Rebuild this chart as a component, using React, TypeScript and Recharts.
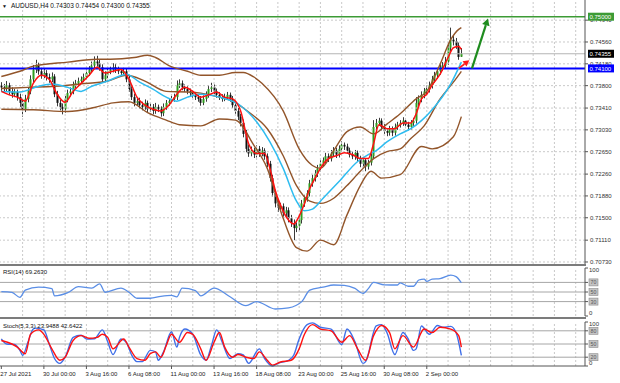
import React from 'react';
import { ComposedChart, Bar, Line, XAxis, YAxis, ReferenceLine } from 'recharts';

const FONT = '"Liberation Sans", Arial, sans-serif';
const W = 620;
const PLOT_W = 585;
const AXIS_W = 35;
const X_DOMAIN: [number, number] = [-0.5, 219.5];
const PRICE_DOMAIN: [number, number] = [0.70695, 0.75291];

// H4 candles, AUDUSD, 27 Jul 2021 -> 3 Sep 2021
const opens = [
  0.7380, 0.7377, 0.7374, 0.7381, 0.7370, 0.7365, 0.7369, 0.7360, 0.7350, 0.7339,
  0.7357, 0.7370, 0.7391, 0.7408, 0.7415, 0.7405, 0.7398, 0.7402, 0.7395, 0.7391,
  0.7396, 0.7365, 0.7350, 0.7343, 0.7339, 0.7357, 0.7367, 0.7370, 0.7381, 0.7384,
  0.7388, 0.7391, 0.7395, 0.7402, 0.7408, 0.7415, 0.7422, 0.7419, 0.7412, 0.7391,
  0.7398, 0.7405, 0.7408, 0.7412, 0.7408, 0.7405, 0.7402, 0.7405, 0.7391, 0.7374,
  0.7360, 0.7350, 0.7353, 0.7346, 0.7343, 0.7350, 0.7339, 0.7343, 0.7336, 0.7343,
  0.7339, 0.7332, 0.7343, 0.7350, 0.7353, 0.7357, 0.7360, 0.7381, 0.7384, 0.7377,
  0.7374, 0.7370, 0.7367, 0.7364, 0.7360, 0.7357, 0.7350, 0.7357, 0.7364, 0.7374,
  0.7377, 0.7370, 0.7364, 0.7360, 0.7357, 0.7360, 0.7364, 0.7357, 0.7346, 0.7336,
  0.7326, 0.7315, 0.7296, 0.7270, 0.7262, 0.7267, 0.7260, 0.7270, 0.7262, 0.7267,
  0.7257, 0.7244, 0.7219, 0.7193, 0.7175, 0.7167, 0.7170, 0.7158, 0.7163, 0.7149,
  0.7141, 0.7132, 0.7136, 0.7146, 0.7175, 0.7184, 0.7193, 0.7210, 0.7219, 0.7227,
  0.7236, 0.7244, 0.7250, 0.7257, 0.7253, 0.7262, 0.7267, 0.7260, 0.7270, 0.7277,
  0.7274, 0.7267, 0.7260, 0.7257, 0.7263, 0.7253, 0.7244, 0.7250, 0.7239, 0.7246,
  0.7257, 0.7308, 0.7315, 0.7319, 0.7308, 0.7301, 0.7298, 0.7305, 0.7298, 0.7308,
  0.7312, 0.7315, 0.7319, 0.7312, 0.7308, 0.7315, 0.7319, 0.7350, 0.7357, 0.7364,
  0.7370, 0.7374, 0.7381, 0.7391, 0.7398, 0.7405, 0.7412, 0.7415, 0.7422, 0.7446,
  0.7460, 0.7457, 0.7450, 0.74303,
];
const highs = [
  0.7386, 0.7383, 0.7388, 0.7385, 0.7377, 0.7374, 0.7373, 0.7366, 0.7356, 0.7364,
  0.7376, 0.7398, 0.7416, 0.7425, 0.7420, 0.7411, 0.7409, 0.7407, 0.7401, 0.7403,
  0.7400, 0.7371, 0.7356, 0.7349, 0.7362, 0.7373, 0.7377, 0.7387, 0.7390, 0.7394,
  0.7396, 0.7401, 0.7408, 0.7414, 0.7422, 0.7431, 0.7432, 0.7425, 0.7417, 0.7405,
  0.7411, 0.7413, 0.7419, 0.7418, 0.7413, 0.7410, 0.7411, 0.7409, 0.7397, 0.7379,
  0.7366, 0.7358, 0.7359, 0.7352, 0.7356, 0.7354, 0.7349, 0.7348, 0.7350, 0.7347,
  0.7344, 0.7349, 0.7355, 0.7358, 0.7362, 0.7366, 0.7389, 0.7391, 0.7389, 0.7382,
  0.7379, 0.7375, 0.7372, 0.7369, 0.7365, 0.7362, 0.7363, 0.7370, 0.7381, 0.7385,
  0.7382, 0.7375, 0.7369, 0.7365, 0.7366, 0.7369, 0.7368, 0.7362, 0.7352, 0.7341,
  0.7331, 0.7321, 0.7303, 0.7277, 0.7274, 0.7272, 0.7276, 0.7275, 0.7273, 0.7271,
  0.7262, 0.7249, 0.7225, 0.7199, 0.7181, 0.7176, 0.7175, 0.7169, 0.7168, 0.7155,
  0.7147, 0.7142, 0.7152, 0.7181, 0.7190, 0.7198, 0.7216, 0.7225, 0.7233, 0.7242,
  0.7250, 0.7255, 0.7263, 0.7262, 0.7268, 0.7273, 0.7272, 0.7276, 0.7283, 0.7281,
  0.7279, 0.7272, 0.7265, 0.7268, 0.7267, 0.7258, 0.7256, 0.7254, 0.7251, 0.7263,
  0.7320, 0.7322, 0.7324, 0.7323, 0.7313, 0.7306, 0.7310, 0.7309, 0.7314, 0.7317,
  0.7320, 0.7325, 0.7323, 0.7317, 0.7320, 0.7324, 0.7360, 0.7363, 0.7370, 0.7376,
  0.7380, 0.7387, 0.7397, 0.7404, 0.7411, 0.7418, 0.7421, 0.7430, 0.7455, 0.7481,
  0.7468, 0.7463, 0.7455, 0.74454,
];
const lows = [
  0.7371, 0.7368, 0.7369, 0.7364, 0.7359, 0.7360, 0.7354, 0.7343, 0.7326, 0.7334,
  0.7351, 0.7365, 0.7385, 0.7402, 0.7399, 0.7392, 0.7393, 0.7389, 0.7385, 0.7386,
  0.7360, 0.7344, 0.7337, 0.7330, 0.7333, 0.7351, 0.7361, 0.7365, 0.7376, 0.7379,
  0.7383, 0.7386, 0.7390, 0.7397, 0.7403, 0.7410, 0.7413, 0.7406, 0.7385, 0.7386,
  0.7393, 0.7400, 0.7403, 0.7402, 0.7400, 0.7397, 0.7398, 0.7386, 0.7369, 0.7355,
  0.7344, 0.7345, 0.7340, 0.7337, 0.7338, 0.7333, 0.7334, 0.7330, 0.7331, 0.7334,
  0.7326, 0.7327, 0.7338, 0.7345, 0.7348, 0.7352, 0.7355, 0.7376, 0.7372, 0.7369,
  0.7365, 0.7362, 0.7359, 0.7355, 0.7352, 0.7345, 0.7346, 0.7352, 0.7359, 0.7369,
  0.7365, 0.7359, 0.7355, 0.7352, 0.7353, 0.7355, 0.7352, 0.7341, 0.7331, 0.7320,
  0.7309, 0.7290, 0.7264, 0.7256, 0.7257, 0.7254, 0.7255, 0.7256, 0.7257, 0.7251,
  0.7238, 0.7213, 0.7187, 0.7168, 0.7160, 0.7161, 0.7152, 0.7152, 0.7142, 0.7134,
  0.7111, 0.7125, 0.7128, 0.7140, 0.7169, 0.7178, 0.7187, 0.7204, 0.7213, 0.7221,
  0.7230, 0.7239, 0.7245, 0.7247, 0.7248, 0.7257, 0.7254, 0.7255, 0.7265, 0.7268,
  0.7262, 0.7255, 0.7252, 0.7251, 0.7247, 0.7238, 0.7239, 0.7231, 0.7234, 0.7241,
  0.7252, 0.7302, 0.7310, 0.7302, 0.7296, 0.7292, 0.7293, 0.7292, 0.7293, 0.7303,
  0.7307, 0.7310, 0.7306, 0.7302, 0.7303, 0.7310, 0.7314, 0.7344, 0.7351, 0.7358,
  0.7364, 0.7368, 0.7375, 0.7385, 0.7392, 0.7399, 0.7406, 0.7409, 0.7416, 0.7440,
  0.7450, 0.7444, 0.7425, 0.74300,
];
const closes = [
  0.7377, 0.7374, 0.7381, 0.7370, 0.7365, 0.7369, 0.7360, 0.7350, 0.7339, 0.7357,
  0.7370, 0.7391, 0.7408, 0.7415, 0.7405, 0.7398, 0.7402, 0.7395, 0.7391, 0.7396,
  0.7365, 0.7350, 0.7343, 0.7339, 0.7357, 0.7367, 0.7370, 0.7381, 0.7384, 0.7388,
  0.7391, 0.7395, 0.7402, 0.7408, 0.7415, 0.7422, 0.7419, 0.7412, 0.7391, 0.7398,
  0.7405, 0.7408, 0.7412, 0.7408, 0.7405, 0.7402, 0.7405, 0.7391, 0.7374, 0.7360,
  0.7350, 0.7353, 0.7346, 0.7343, 0.7350, 0.7339, 0.7343, 0.7336, 0.7343, 0.7339,
  0.7332, 0.7343, 0.7350, 0.7353, 0.7357, 0.7360, 0.7381, 0.7384, 0.7377, 0.7374,
  0.7370, 0.7367, 0.7364, 0.7360, 0.7357, 0.7350, 0.7357, 0.7364, 0.7374, 0.7377,
  0.7370, 0.7364, 0.7360, 0.7357, 0.7360, 0.7364, 0.7357, 0.7346, 0.7336, 0.7326,
  0.7315, 0.7296, 0.7270, 0.7262, 0.7267, 0.7260, 0.7270, 0.7262, 0.7267, 0.7257,
  0.7244, 0.7219, 0.7193, 0.7175, 0.7167, 0.7170, 0.7158, 0.7163, 0.7149, 0.7141,
  0.7132, 0.7136, 0.7146, 0.7175, 0.7184, 0.7193, 0.7210, 0.7219, 0.7227, 0.7236,
  0.7244, 0.7250, 0.7257, 0.7253, 0.7262, 0.7267, 0.7260, 0.7270, 0.7277, 0.7274,
  0.7267, 0.7260, 0.7257, 0.7263, 0.7253, 0.7244, 0.7250, 0.7239, 0.7246, 0.7257,
  0.7308, 0.7315, 0.7319, 0.7308, 0.7301, 0.7298, 0.7305, 0.7298, 0.7308, 0.7312,
  0.7315, 0.7319, 0.7312, 0.7308, 0.7315, 0.7319, 0.7350, 0.7357, 0.7364, 0.7370,
  0.7374, 0.7381, 0.7391, 0.7398, 0.7405, 0.7412, 0.7415, 0.7422, 0.7446, 0.7460,
  0.7457, 0.7450, 0.7430, 0.74355,
];

// indicator lines, [bar, value]
const redMa: [number, number][] = [
  [0, 0.7370], [3, 0.7364], [6, 0.7360], [9, 0.7353], [12, 0.7384], [15, 0.7398], [18, 0.7391],
  [21, 0.7365], [24, 0.7351], [27, 0.7370], [30, 0.7384], [33, 0.7398], [36, 0.7412], [39, 0.7402],
  [42, 0.7405], [45, 0.7408], [48, 0.7391], [51, 0.7360], [54, 0.7346], [57, 0.7339], [60, 0.7336],
  [63, 0.7346], [66, 0.7365], [69, 0.7377], [72, 0.7370], [75, 0.7360], [78, 0.7364], [81, 0.7369],
  [84, 0.7360], [87, 0.7357], [90, 0.7336], [93, 0.7279], [96, 0.7262], [99, 0.7262], [101, 0.7236],
  [103, 0.7198], [105, 0.7172], [108, 0.7146], [110, 0.7139], [112, 0.7153], [114, 0.7175],
  [116, 0.7201], [118, 0.7219], [120, 0.7236], [123, 0.7253], [126, 0.7258], [129, 0.7263],
  [132, 0.7260], [135, 0.7253], [138, 0.7253], [140, 0.7279], [142, 0.7312], [145, 0.7305],
  [148, 0.7305], [151, 0.7315], [154, 0.7315], [156, 0.7331], [158, 0.7357], [160, 0.7365],
  [162, 0.7381], [165, 0.7400], [168, 0.7429], [170, 0.7446], [172, 0.7448], [173, 0.7443],
];
const cyanMa: [number, number][] = [
  [0, 0.7370], [7, 0.7369], [14, 0.7379], [19, 0.7383], [25, 0.7377], [30, 0.7370], [34, 0.7379],
  [40, 0.7388], [44, 0.7396], [47, 0.7400], [52, 0.7386], [57, 0.7374], [62, 0.7360], [66, 0.7353],
  [70, 0.7360], [75, 0.7365], [82, 0.7360], [90, 0.7345], [96, 0.7317], [101, 0.7282], [106, 0.7236],
  [111, 0.7179], [114, 0.7162], [117, 0.7165], [121, 0.7184], [127, 0.7213], [134, 0.7248],
  [138, 0.7260], [141, 0.7267], [145, 0.7282], [150, 0.7296], [154, 0.7305], [158, 0.7319],
  [162, 0.7338], [169, 0.7383], [173, 0.7421],
];
const bbUpper: [number, number][] = [
  [0, 0.7396], [7, 0.7405], [12, 0.7414], [25, 0.7421], [36, 0.7426], [41, 0.7426], [50, 0.7429],
  [55, 0.7433], [58, 0.7429], [63, 0.7415], [70, 0.7405], [75, 0.7398], [82, 0.7398], [88, 0.7403],
  [91, 0.7403], [95, 0.7395], [98, 0.7384], [106, 0.7336], [112, 0.7270], [117, 0.7241],
  [120, 0.7236], [125, 0.7267], [130, 0.7300], [135, 0.7308], [140, 0.7296], [145, 0.7313],
  [150, 0.7331], [156, 0.7357], [160, 0.7370], [165, 0.7417], [169, 0.7460], [172, 0.7478],
  [173, 0.7481],
];
const bbMiddle: [number, number][] = [
  [0, 0.7375], [10, 0.7377], [20, 0.7379], [30, 0.7383], [40, 0.7388], [47, 0.7398], [54, 0.7388],
  [62, 0.7370], [70, 0.7369], [75, 0.7367], [82, 0.7360], [87, 0.7353], [93, 0.7334], [100, 0.7305],
  [106, 0.7258], [111, 0.7206], [116, 0.7179], [120, 0.7175], [125, 0.7184], [130, 0.7206],
  [135, 0.7231], [140, 0.7253], [145, 0.7265], [150, 0.7270], [154, 0.7288], [159, 0.7310],
  [165, 0.7357], [170, 0.7386], [173, 0.7405],
];
const bbLower: [number, number][] = [
  [0, 0.7339], [12, 0.7338], [25, 0.7335], [35, 0.7342], [42, 0.7350], [48, 0.7352], [55, 0.7333],
  [62, 0.7320], [67, 0.7312], [75, 0.7310], [82, 0.7322], [88, 0.7320], [95, 0.7276], [100, 0.7236],
  [106, 0.7149], [111, 0.7098], [115, 0.7092], [120, 0.7111], [125, 0.7103], [130, 0.7155],
  [135, 0.7206], [139, 0.7231], [143, 0.7219], [150, 0.7225], [158, 0.7274], [162, 0.7270],
  [170, 0.7291], [173, 0.7326],
];
const rsi14: [number, number][] = [
  [0, 50.6], [4, 49], [7, 39], [9, 54], [14, 60], [19, 57], [20, 42], [25, 48.5], [29, 61], [34, 58],
  [37, 67], [39, 49.5], [45, 58], [48, 49.5], [51, 37], [56, 37], [60, 41], [64, 43], [66, 40],
  [68, 58], [73, 53], [75, 42], [80, 58], [86, 40], [92, 21.5], [96, 30], [103, 14.6], [108, 17],
  [113, 30], [116, 54], [121, 60], [125, 64.6], [129, 64], [133, 57.6], [136, 47], [138, 57],
  [140, 70], [144, 65], [149, 64.6], [150, 69], [153, 62], [155, 62], [157, 75], [159, 77], [160, 72],
  [162, 77], [165, 78], [169, 85], [171, 82], [173, 69.26],
];
const stochMain: [number, number][] = [
  [0, 61.5], [2, 50], [5, 49], [7, 35.5], [8, 24], [10, 54], [12, 84], [13, 86], [16, 82], [18, 50],
  [20, 17], [22, 6], [24, 20], [27, 65], [30, 70], [32, 61.5], [35, 62], [38, 82], [40, 55], [42, 26],
  [45, 61.5], [47, 54], [49, 25], [51, 10], [53, 10], [56, 35.5], [58, 32], [59, 13], [61, 32],
  [64, 78], [66, 43], [67, 65], [69, 84], [72, 72], [75, 25], [77, 13], [79, 46], [81, 82], [83, 55],
  [86, 17], [89, 28], [91, 25], [93, 6], [97, 39], [99, 17], [102, 0], [104, 6], [108, 13], [110, 25],
  [112, 61.5], [115, 94], [117, 98], [120, 88], [124, 84], [128, 49], [130, 84], [133, 55], [136, 6],
  [137, 10], [141, 91], [143, 94], [145, 76], [148, 26], [151, 76], [153, 61.5], [155, 35.5],
  [156, 39], [158, 91], [161, 72], [164, 92], [166, 88], [169, 90], [171, 76], [173, 23.95],
];
const stochSignal: [number, number][] = [
  [0, 58], [4, 50], [6, 43], [9, 28], [11, 72], [14, 82], [16, 72], [19, 39], [22, 13], [24, 20],
  [27, 58], [30, 69], [33, 63], [36, 65], [38, 72], [40, 65], [42, 39], [46, 61.5], [48, 43], [51, 17],
  [54, 13], [56, 28], [58, 32], [60, 20], [62, 46], [64, 72], [67, 54], [70, 76], [72, 72], [75, 39],
  [77, 13], [80, 54], [82, 76], [84, 43], [87, 20], [89, 26], [92, 20], [95, 17], [97, 32], [100, 13],
  [102, 2], [105, 9], [109, 13], [112, 39], [114, 72], [117, 94], [120, 84], [124, 80], [128, 54],
  [131, 69], [134, 39], [137, 13], [140, 69], [143, 92], [146, 76], [148, 39], [151, 69], [155, 43],
  [159, 84], [162, 76], [165, 88], [169, 84], [172, 69], [173, 42.64],
];

const priceTicks = [0.7073, 0.7111, 0.715, 0.7188, 0.7226, 0.7265, 0.7303, 0.7341, 0.738, 0.7418, 0.7456, 0.7494];
const gridBars = [8, 16, 24, 32, 40, 48, 56, 64, 72, 80, 88, 96, 104, 112, 120, 128, 136, 144, 152, 160, 168, 176, 184, 192, 200, 208, 216];
const timeTickBars = [0, 16, 32, 48, 64, 80, 96, 112, 128, 144, 160];
const timeLabels = ['27 Jul 2021', '30 Jul 00:00', '3 Aug 16:00', '6 Aug 08:00', '11 Aug 00:00', '13 Aug 16:00', '18 Aug 08:00', '23 Aug 00:00', '25 Aug 16:00', '30 Aug 08:00', '2 Sep 00:00'];
const targetLevel = 0.75;
const supportLevel = 0.741;
const bidPrice = 0.74355;
const tagPrices = [bidPrice, supportLevel, targetLevel];
const tagColors: Record<string, string> = { '0.74355': '#000', '0.74100': '#0000ff', '0.75000': '#3d9b35' };
const rsiLevels = [30, 50, 70];
const stochLevels = [20, 50, 80];
const greenArrow = [{ x: 177, y: 0.741 }, { x: 183, y: 0.7497 }];
const redArrow = [{ x: 172, y: 0.741 }, { x: 176, y: 0.7424 }];

const candles = closes.map((c, i) => ({
  i, open: opens[i], close: c, high: highs[i], low: lows[i], range: [lows[i], highs[i]],
}));
const pts = (arr: [number, number][]) => arr.map(([i, v]) => ({ i, v }));

const Candle = (props: any) => {
  const { x, y, width, height, payload } = props;
  if (!payload) return null;
  const top = Math.min(y, y + height);
  const h = Math.abs(height);
  const span = payload.high - payload.low || 1e-9;
  const yOf = (p: number) => top + ((payload.high - p) / span) * h;
  const cx = Math.round(x + width / 2) + 0.5;
  const bTop = yOf(Math.max(payload.open, payload.close));
  const bBot = yOf(Math.min(payload.open, payload.close));
  const bull = payload.close >= payload.open;
  return (
    <g>
      <line x1={cx} x2={cx} y1={top} y2={top + h} stroke="#3a3a3a" strokeWidth={1} />
      <rect x={cx - 1} y={bTop} width={2} height={Math.max(1, bBot - bTop)} fill={bull ? '#2f9e1f' : '#111'} />
    </g>
  );
};

const PriceTick = (props: any) => {
  const { x, y, payload } = props;
  return (
    <text x={x} y={y + 2} fontSize={6} fill="#333" fontFamily={FONT} textAnchor="start">
      {Number(payload.value).toFixed(5)}
    </text>
  );
};

// coloured price tags sit on a second right axis so they draw over the plain tick labels
const TagTick = (props: any) => {
  const { y, payload } = props;
  const text = Number(payload.value).toFixed(5);
  return (
    <g>
      <rect x={PLOT_W + 3} y={y - 4} width={26} height={8} fill={tagColors[text] || '#000'} />
      <text x={PLOT_W + 4.5} y={y + 2.2} fontSize={6} fill="#fff" fontFamily={FONT}>{text}</text>
    </g>
  );
};

const levelTick = (boxed: number[]) => (props: any) => {
  const { x, y, payload } = props;
  const v = payload.value;
  if (boxed.includes(v)) {
    return (
      <g>
        <rect x={x - 1} y={y - 3.5} width={9} height={7} fill="#c4c4c4" stroke="#8c8c8c" strokeWidth={0.6} />
        <text x={x + 0.5} y={y + 2} fontSize={5.2} fill="#555" fontFamily={FONT}>{v}</text>
      </g>
    );
  }
  const dy = v === 0 ? -1 : v === 100 ? 4 : 2;
  return (
    <text x={x - 1} y={y + dy} fontSize={6} fill="#333" fontFamily={FONT}>{v}</text>
  );
};

const TimeTick = (props: any) => {
  const { x, y, payload } = props;
  const idx = timeTickBars.indexOf(payload.value);
  return (
    <text x={x - 1} y={y + 5} fontSize={6} fill="#222" fontFamily={FONT} textAnchor="start">
      {timeLabels[idx]}
    </text>
  );
};

const arrowShape = (color: string, head: number, w: number) => (p: any) => {
  const { x1, y1, x2, y2 } = p;
  if (x1 == null) return null;
  const ang = Math.atan2(y2 - y1, x2 - x1);
  const hx = x2 - head * Math.cos(ang);
  const hy = y2 - head * Math.sin(ang);
  const nx = -Math.sin(ang) * head * 0.55;
  const ny = Math.cos(ang) * head * 0.55;
  return (
    <g>
      <line x1={x1} y1={y1} x2={hx} y2={hy} stroke={color} strokeWidth={w} />
      <polygon points={`${x2},${y2} ${hx + nx},${hy + ny} ${hx - nx},${hy - ny}`} fill={color} />
    </g>
  );
};

const vGrid = gridBars.map((b) => (
  <ReferenceLine key={`g${b}`} x={b} stroke="#c9c9c9" strokeDasharray="2 2" />
));

const lineProps = { type: 'monotone' as const, dataKey: 'v', dot: false, activeDot: false, isAnimationActive: false };
const axisStroke = { stroke: '#555' };

export default function App() {
  return (
    <div style={{ position: 'absolute', left: 0, top: 0, width: W, height: 383, background: '#fff', overflow: 'hidden', fontFamily: FONT }}>
      {/* price window */}
      <div style={{ position: 'absolute', left: 0, top: 0 }}>
        <ComposedChart width={W + 1} height={264} data={candles} margin={{ top: 0, right: 0, bottom: 0, left: 0 }}>
          <XAxis type="number" dataKey="i" domain={X_DOMAIN} hide allowDataOverflow />
          <YAxis
            orientation="right"
            width={AXIS_W}
            domain={PRICE_DOMAIN}
            ticks={priceTicks}
            interval={0}
            tick={<PriceTick />}
            tickSize={3}
            tickLine={axisStroke}
            axisLine={axisStroke}
            allowDataOverflow
          />
          <YAxis
            yAxisId="tags"
            orientation="right"
            width={1}
            domain={PRICE_DOMAIN}
            ticks={tagPrices}
            interval={0}
            tick={<TagTick />}
            tickLine={false}
            axisLine={false}
            allowDataOverflow
          />
          {vGrid}
          {priceTicks.map((t) => (
            <ReferenceLine key={`h${t}`} y={t} stroke="#c9c9c9" strokeDasharray="2 2" />
          ))}
          <ReferenceLine y={bidPrice} stroke="#b4b4b4" />
          <ReferenceLine y={targetLevel} stroke="#3d9b35" strokeWidth={1.5} />
          <ReferenceLine y={supportLevel} stroke="#0000ff" strokeWidth={2} />
          <ReferenceLine yAxisId="tags" y={bidPrice} stroke="none" />
          <Line data={pts(bbUpper)} {...lineProps} stroke="#92552a" strokeWidth={1.4} />
          <Line data={pts(bbMiddle)} {...lineProps} stroke="#92552a" strokeWidth={1.4} />
          <Line data={pts(bbLower)} {...lineProps} stroke="#92552a" strokeWidth={1.4} />
          <Bar dataKey="range" barSize={2} shape={<Candle />} isAnimationActive={false} />
          <Line data={pts(cyanMa)} {...lineProps} stroke="#2ebcf0" strokeWidth={1.5} />
          <Line data={pts(redMa)} {...lineProps} stroke="#ff1010" strokeWidth={1.5} />
          <ReferenceLine segment={greenArrow} ifOverflow="visible" shape={arrowShape('#1f8c1f', 7, 2.2)} />
          <ReferenceLine segment={redArrow} ifOverflow="visible" shape={arrowShape('#ff1a1a', 6, 1.6)} />
        </ComposedChart>
      </div>

      {/* RSI window */}
      <div style={{ position: 'absolute', left: 0, top: 266 }}>
        <ComposedChart width={W} height={51} data={pts(rsi14)} margin={{ top: 2, right: 0, bottom: 1, left: 0 }}>
          <XAxis type="number" dataKey="i" domain={X_DOMAIN} hide allowDataOverflow />
          <YAxis
            orientation="right"
            width={AXIS_W}
            domain={[0, 100]}
            ticks={[0, 30, 50, 70, 100]}
            interval={0}
            tick={levelTick(rsiLevels)}
            tickSize={3}
            tickLine={axisStroke}
            axisLine={axisStroke}
          />
          {vGrid}
          {rsiLevels.map((l) => (
            <ReferenceLine key={`r${l}`} y={l} stroke="#a6a6a6" />
          ))}
          <Line {...lineProps} stroke="#5a8ee6" strokeWidth={1.3} />
        </ComposedChart>
      </div>

      {/* Stochastic window + time axis */}
      <div style={{ position: 'absolute', left: 0, top: 319 }}>
        <ComposedChart width={W} height={64} data={pts(stochMain)} margin={{ top: 3, right: 0, bottom: 0, left: 0 }}>
          <XAxis
            type="number"
            dataKey="i"
            domain={X_DOMAIN}
            ticks={timeTickBars}
            interval={0}
            tick={<TimeTick />}
            height={17}
            tickSize={3}
            tickLine={axisStroke}
            axisLine={axisStroke}
            allowDataOverflow
          />
          <YAxis
            orientation="right"
            width={AXIS_W}
            domain={[0, 100]}
            ticks={[0, 20, 50, 80, 100]}
            interval={0}
            tick={levelTick(stochLevels)}
            tickSize={3}
            tickLine={axisStroke}
            axisLine={axisStroke}
          />
          {vGrid}
          {stochLevels.map((l) => (
            <ReferenceLine key={`s${l}`} y={l} stroke="#a6a6a6" />
          ))}
          <Line {...lineProps} stroke="#3f6fe8" strokeWidth={1.4} />
          <Line data={pts(stochSignal)} {...lineProps} stroke="#ff1010" strokeWidth={1.4} />
        </ComposedChart>
      </div>

      {/* window separators */}
      <div style={{ position: 'absolute', left: 0, top: 264, width: PLOT_W + 1, height: 2, background: '#7c7c7c' }} />
      <div style={{ position: 'absolute', left: 0, top: 317, width: PLOT_W + 1, height: 2, background: '#7c7c7c' }} />

      {/* window titles */}
      <div style={{ position: 'absolute', left: 2, top: 2, fontSize: 6.5, lineHeight: '8px', color: '#111', whiteSpace: 'nowrap' }}>
        <span style={{ fontSize: 5, marginRight: 4 }}>▼</span>AUDUSD,H4 0.74303 0.74454 0.74300 0.74355
      </div>
      <div style={{ position: 'absolute', left: 3, top: 268, fontSize: 6, lineHeight: '8px', color: '#111', whiteSpace: 'nowrap' }}>
        RSI(14) 69.2630
      </div>
      <div style={{ position: 'absolute', left: 3, top: 322, fontSize: 6, lineHeight: '8px', color: '#111', whiteSpace: 'nowrap' }}>
        Stoch(5,3,3) 23.9488 42.6422
      </div>
    </div>
  );
}
